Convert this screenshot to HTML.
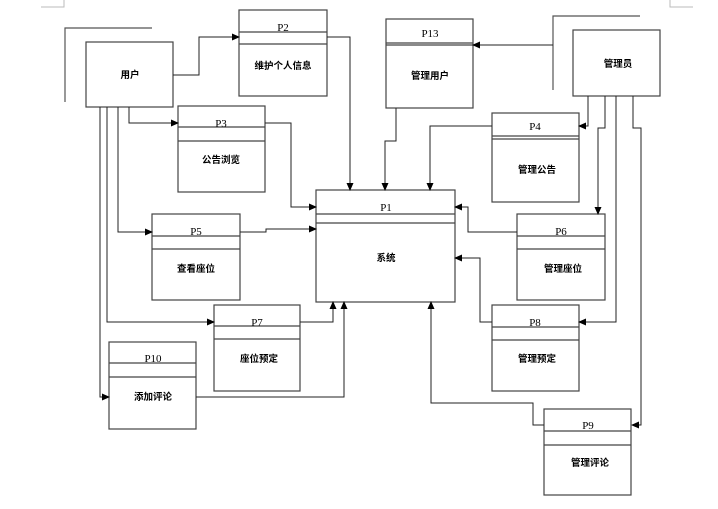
<!DOCTYPE html>
<html><head><meta charset="utf-8"><style>
html,body{margin:0;padding:0;background:#fff;width:718px;height:509px;overflow:hidden}
svg text{font-family:"Liberation Serif","Noto Serif CJK SC",serif;font-size:11px;text-anchor:middle;fill:#000}
svg text.z{font-family:"Liberation Sans","Noto Sans CJK SC",sans-serif;font-weight:bold;font-size:9.5px}
</style></head><body>
<svg width="718" height="509" viewBox="0 0 718 509" xmlns="http://www.w3.org/2000/svg">
<defs><marker id="a" markerWidth="8" markerHeight="8" refX="7" refY="4" orient="auto" markerUnits="userSpaceOnUse"><path d="M0,0.5 L8,4 L0,7.5 z" fill="#000"/></marker></defs>
<g fill="none" stroke="#bbb" stroke-width="1">
<path d="M41,7 H64 V0"/><path d="M693,7 H670 V0"/>
</g>
<g fill="none" stroke="#555" stroke-width="1.2">
<path d="M65,102 V28 H152"/>
<path d="M553,90 V16 H640"/>
</g>
<g fill="#fff" stroke="#444" stroke-width="1.2">
<rect x="86" y="42" width="87" height="65"/>
<rect x="573" y="30" width="87" height="66"/>
<rect x="239" y="10" width="88" height="86"/><path d="M239,32 H327 M239,44 H327"/>
<rect x="178" y="106" width="87" height="86"/><path d="M178,127 H265 M178,141 H265"/>
<rect x="316" y="190" width="139" height="112"/><path d="M316,214 H455 M316,223 H455"/>
<rect x="152" y="214" width="88" height="86"/><path d="M152,236 H240 M152,249 H240"/>
<rect x="214" y="305" width="86" height="86"/><path d="M214,326 H300 M214,339 H300"/>
<rect x="109" y="342" width="87" height="87"/><path d="M109,363 H196 M109,377 H196"/>
<rect x="386" y="19" width="87" height="89"/><path d="M386,43 H473 M386,45 H473"/>
<rect x="492" y="113" width="87" height="89"/><path d="M492,136 H579 M492,139 H579"/>
<rect x="517" y="214" width="88" height="86"/><path d="M517,236 H605 M517,249 H605"/>
<rect x="492" y="305" width="87" height="86"/><path d="M492,327 H579 M492,340 H579"/>
<rect x="544" y="409" width="87" height="86"/><path d="M544,431 H631 M544,445 H631"/>
</g>
<g fill="none" stroke="#222" stroke-width="1" marker-end="url(#a)">
<path d="M173,75 H199 V37 H239"/>
<path d="M327,37 H350 V190"/>
<path d="M129,107 V123 H178"/>
<path d="M265,123 H291 V207 H316"/>
<path d="M118,107 V232 H152"/>
<path d="M240,232 H266 V229 H316"/>
<path d="M107,107 V322 H214"/>
<path d="M100,107 V397 H109"/>
<path d="M300,322 H333 V302"/>
<path d="M196,397 H344 V302"/>
<path d="M553,45 H473"/>
<path d="M396,108 V141 H385 V190"/>
<path d="M492,126 H430 V190"/>
<path d="M588,96 V126 H579"/>
<path d="M605,96 V128 H598 V214"/>
<path d="M616,96 V322 H579"/>
<path d="M633,96 V128 H641 V425 H632"/>
<path d="M517,232 H468 V207 H455"/>
<path d="M492,322 H480 V258 H455"/>
<path d="M544,425 H533 V403 H431 V302"/>
</g>
<text x="283" y="31">P2</text><text class="z" x="283" y="69">维护个人信息</text>
<text x="221" y="127">P3</text><text class="z" x="221" y="163">公告浏览</text>
<text x="386" y="211">P1</text><text class="z" x="386" y="261">系统</text>
<text x="196" y="235">P5</text><text class="z" x="196" y="272">查看座位</text>
<text x="257" y="326">P7</text><text class="z" x="259" y="362">座位预定</text>
<text x="153" y="362">P10</text><text class="z" x="153" y="400">添加评论</text>
<text x="430" y="37">P13</text><text class="z" x="430" y="79">管理用户</text>
<text x="535" y="130">P4</text><text class="z" x="537" y="173">管理公告</text>
<text x="561" y="235">P6</text><text class="z" x="563" y="272">管理座位</text>
<text x="535" y="326">P8</text><text class="z" x="537" y="362">管理预定</text>
<text x="588" y="429">P9</text><text class="z" x="590" y="466">管理评论</text>
<text class="z" x="130" y="78">用户</text>
<text class="z" x="618" y="67">管理员</text>
</svg>
</body></html>
